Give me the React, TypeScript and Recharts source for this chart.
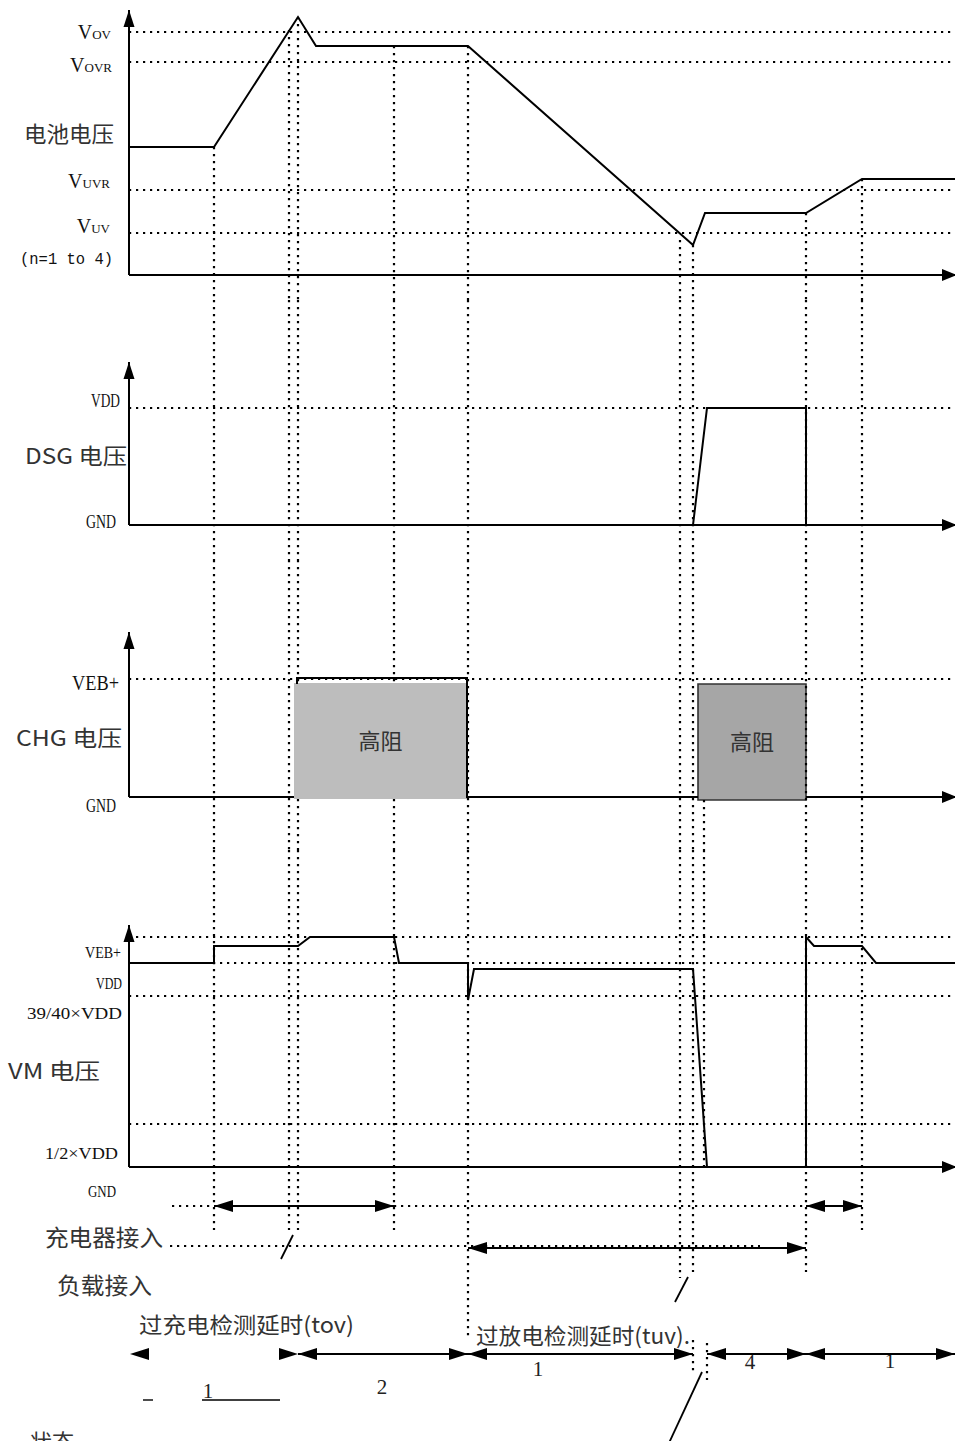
import React from "react";
import {
  ComposedChart,
  Line,
  XAxis,
  YAxis,
  ReferenceLine,
  ReferenceArea,
} from "recharts";

const W = 955;
const AXIS_X = 129;
const T_END = 826;

const SERIF = "'Liberation Serif', 'DejaVu Serif', serif";
const MONO = "'Liberation Mono', monospace";
const CJK = "'Noto Sans CJK SC', 'Noto Sans', sans-serif";

// event times (time units from the vertical axis)
const guideTimes = [85, 160, 169, 265, 339, 551, 564, 677, 733];
// where each guide starts in the battery panel and ends in the timeline rows
const guideStartBattery = [128, 245, 258, 229, 229, 35, 30, 62, 96];
const guideEndTimeline = [30, 30, 30, 30, 138, 78, 72, 72, 30];

// battery voltage
const batteryT = [0, 85, 169, 187, 339, 564, 576, 677, 733, 826];
const batteryV = [128, 128, 258, 229, 229, 30, 62, 62, 96, 96];
const batteryLevels = [243, 213, 85, 42]; // VOV, VOVR, VUVR, VUV

// DSG voltage
const dsgT = [0, 564, 578, 677, 677, 826];
const dsgV = [0, 0, 117, 117, 0, 0];
const dsgLevels = [117]; // VDD

// CHG voltage
const chgLowT = [0, 165];
const chgLowV = [0, 0];
const chgHighT = [168, 168, 338, 338, 569];
const chgHighV = [113, 119, 119, 0, 0];
const chgLevels = [118]; // VEB+
const hiZ1 = { t1: 165, t2: 338, v1: -2, v2: 114 };
const hiZ2 = { t1: 569, t2: 677, v1: -3, v2: 113 };

// VM voltage
const vmT = [0, 85, 85, 169, 181, 265, 270, 339, 339, 345, 564, 578, 677, 677, 685, 733, 747, 826];
const vmV = [204, 204, 221, 221, 230, 230, 204, 204, 167, 198, 198, 0, 0, 230, 221, 221, 204, 204];
const vmLevels = [230, 204, 171, 43]; // VEB+, VDD, 39/40 VDD, 1/2 VDD

// timeline rows
const rowTop = 6;
const rowCharger = 46;
const rowCharger2 = 48;
const rowState = 154;
const dottedRows = [
  { row: rowTop, t1: 43, t2: 85 },
  { row: rowTop, t1: 265, t2: 677 },
  { row: rowCharger, t1: 41, t2: 631 },
];
const spans = [
  { row: rowTop, t1: 85, t2: 265, start: true, end: true, line: true },
  { row: rowTop, t1: 677, t2: 733, start: true, end: true, line: true },
  { row: rowCharger2, t1: 339, t2: 677, start: true, end: true, line: true },
  { row: rowState, t1: 1, t2: 169, start: true, end: true, line: false },
  { row: rowState, t1: 169, t2: 339, start: true, end: true, line: true },
  { row: rowState, t1: 339, t2: 564, start: true, end: true, line: true },
  { row: rowState, t1: 578, t2: 677, start: true, end: true, line: true },
  { row: rowState, t1: 677, t2: 826, start: true, end: true, line: true },
];
const slashes = [
  { t1: 152, r1: 59, t2: 164, r2: 35 },
  { t1: 546, r1: 102, t2: 559, r2: 77 },
  { t1: 573, r1: 172, t2: 540, r2: 243 },
];

const pts = (t: number[], v: number[]) => t.map((x, i) => ({ t: x, v: v[i] }));

const dotted = { stroke: "#000", strokeWidth: 2.2, strokeDasharray: "2.2 4.8" };

function wave(key: string, t: number[], v: number[]) {
  return (
    <Line
      key={key}
      data={pts(t, v)}
      dataKey="v"
      type="linear"
      stroke="#000"
      strokeWidth={2}
      dot={false}
      activeDot={false}
      isAnimationActive={false}
      legendType="none"
    />
  );
}

function hDotted(key: string, level: number) {
  return <ReferenceLine key={key} y={level} {...dotted} ifOverflow="visible" />;
}

function vGuide(key: string, t: number, y1: number, y2: number) {
  return (
    <ReferenceLine
      key={key}
      segment={[{ x: t, y: y1 }, { x: t, y: y2 }]}
      {...dotted}
      ifOverflow="visible"
    />
  );
}

function dottedSeg(key: string, t1: number, t2: number, y: number) {
  return (
    <ReferenceLine
      key={key}
      segment={[{ x: t1, y }, { x: t2, y }]}
      {...dotted}
      ifOverflow="visible"
    />
  );
}

const arrowShape =
  (start: boolean, end: boolean, line = true, len = 18, half = 6) =>
  (p: any) => {
    const { x1, y1, x2, y2 } = p;
    const dx = x2 - x1;
    const dy = y2 - y1;
    const L = Math.hypot(dx, dy) || 1;
    const ux = dx / L;
    const uy = dy / L;
    const head = (tx: number, ty: number, ax: number, ay: number) => {
      const bx = tx - ax * len;
      const by = ty - ay * len;
      const px = -ay * half;
      const py = ax * half;
      return `${tx},${ty} ${bx + px},${by + py} ${bx - px},${by - py}`;
    };
    return (
      <g>
        {line && <line x1={x1} y1={y1} x2={x2} y2={y2} stroke="#000" strokeWidth={2} />}
        {end && <polygon points={head(x2, y2, ux, uy)} fill="#000" />}
        {start && <polygon points={head(x1, y1, -ux, -uy)} fill="#000" />}
      </g>
    );
  };

function arrow(
  key: string,
  a: { x: number; y: number },
  b: { x: number; y: number },
  start: boolean,
  end: boolean,
  line = true,
  len = 18,
  half = 6
) {
  return (
    <ReferenceLine
      key={key}
      segment={[a, b]}
      ifOverflow="visible"
      shape={arrowShape(start, end, line, len, half)}
    />
  );
}

function solidSeg(key: string, a: { x: number; y: number }, b: { x: number; y: number }, w = 1.6) {
  return (
    <ReferenceLine key={key} segment={[a, b]} stroke="#000" strokeWidth={w} ifOverflow="visible" />
  );
}

function axes(top: number, withX = true) {
  const out = [arrow("yaxis", { x: 0, y: 0 }, { x: 0, y: top }, false, true, true, 17, 5.5)];
  if (withX) out.push(arrow("xaxis", { x: 0, y: 0 }, { x: 828, y: 0 }, false, true, true, 15, 6));
  return out;
}

function Panel({
  height,
  domain,
  reversed = false,
  children,
}: {
  height: number;
  domain: [number, number];
  reversed?: boolean;
  children: React.ReactNode;
}) {
  return (
    <ComposedChart
      width={W}
      height={height}
      margin={{ top: 0, right: 0, bottom: 0, left: AXIS_X }}
      style={{ display: "block" }}
    >
      <XAxis type="number" dataKey="t" domain={[0, T_END]} hide allowDataOverflow />
      <YAxis type="number" dataKey="v" domain={domain} hide allowDataOverflow reversed={reversed} />
      {children}
    </ComposedChart>
  );
}

const serifLabel = (
  key: string,
  x: number,
  y: number,
  text: string,
  size = 17,
  length?: number
) => (
  <text
    key={key}
    x={x}
    y={y}
    textAnchor="end"
    fontFamily={SERIF}
    fontSize={size}
    fill="#111"
    textLength={length}
    lengthAdjust={length ? "spacingAndGlyphs" : undefined}
  >
    {text}
  </text>
);

const vLabel = (key: string, x: number, y: number, sub: string) => (
  <text key={key} x={x} y={y} textAnchor="end" fontFamily={SERIF} fill="#111">
    <tspan fontSize={20}>V</tspan>
    <tspan fontSize={13}>{sub}</tspan>
  </text>
);

const cjkLabel = (key: string, x: number, y: number, text: string, size = 22, length?: number) => (
  <text
    key={key}
    x={x}
    y={y}
    fontFamily={CJK}
    fontSize={size}
    fill="#333"
    textLength={length}
    lengthAdjust={length ? "spacingAndGlyphs" : undefined}
  >
    {text}
  </text>
);

const numLabel = (key: string, x: number, y: number, text: string) => (
  <text key={key} x={x} y={y} textAnchor="middle" fontFamily={SERIF} fontSize={21} fill="#222">
    {text}
  </text>
);

// guides in the CHG panel stop where the first high-impedance box covers them
function chgGuides(top: number, bottom: number) {
  const out: React.ReactNode[] = [];
  guideTimes.forEach((t, i) => {
    if (t > hiZ1.t1 && t < hiZ1.t2) {
      out.push(vGuide(`cg${i}a`, t, top, hiZ1.v2));
      out.push(vGuide(`cg${i}b`, t, hiZ1.v1, bottom));
    } else {
      out.push(vGuide(`cg${i}`, t, top, bottom));
    }
  });
  return out;
}

export default function App() {
  const A: [number, number] = [-25, 275];
  const B: [number, number] = [-35, 225];
  const C: [number, number] = [-53, 237];
  const D: [number, number] = [-33, 317];
  const E: [number, number] = [0, 241];

  return (
    <div
      style={{
        position: "absolute",
        left: 0,
        top: 0,
        width: W,
        height: 1441,
        overflow: "hidden",
        background: "#fff",
      }}
    >
      {/* battery voltage */}
      <Panel height={300} domain={A}>
        {batteryLevels.map((l, i) => hDotted(`bl${i}`, l))}
        {guideTimes.map((t, i) => vGuide(`bg${i}`, t, guideStartBattery[i], A[0]))}
        {axes(265)}
        {wave("battery", batteryT, batteryV)}
        {vLabel("vov", 111, 39, "OV")}
        {vLabel("vovr", 112, 72, "OVR")}
        {cjkLabel("bat", 24, 142, "电池电压", 22, 90)}
        {vLabel("vuvr", 110, 188, "UVR")}
        {vLabel("vuv", 110, 233, "UV")}
        <text x={20} y={264} fontFamily={MONO} fontSize={17} fill="#111" textLength={93} lengthAdjust="spacingAndGlyphs">
          (n=1 to 4)
        </text>
      </Panel>

      {/* DSG voltage */}
      <Panel height={260} domain={B}>
        {dsgLevels.map((l, i) => hDotted(`dl${i}`, l))}
        {guideTimes.map((t, i) => vGuide(`dg${i}`, t, B[1], B[0]))}
        {axes(163)}
        {wave("dsg", dsgT, dsgV)}
        {serifLabel("vdd", 120, 407 - 300, "VDD", 18, 29)}
        {cjkLabel("dsg", 25, 164, "DSG 电压", 22, 102)}
        {serifLabel("gnd", 116, 228, "GND", 18, 30)}
      </Panel>

      {/* CHG voltage */}
      <Panel height={290} domain={C}>
        {chgLevels.map((l, i) => hDotted(`cl${i}`, l))}
        {chgGuides(C[1], C[0])}
        {vGuide("cg-x", 575, hiZ2.v1, C[0])}
        <ReferenceArea
          x1={hiZ1.t1}
          x2={hiZ1.t2}
          y1={hiZ1.v1}
          y2={hiZ1.v2}
          fill="#bdbdbd"
          fillOpacity={1}
          stroke="none"
          ifOverflow="visible"
          label={{ value: "高阻", position: "center", fill: "#333", fontSize: 22, fontFamily: CJK }}
        />
        <ReferenceArea
          x1={hiZ2.t1}
          x2={hiZ2.t2}
          y1={hiZ2.v1}
          y2={hiZ2.v2}
          fill="#a6a6a6"
          fillOpacity={1}
          stroke="#333"
          strokeWidth={1.6}
          ifOverflow="visible"
          label={{ value: "高阻", position: "center", fill: "#333", fontSize: 22, fontFamily: CJK }}
        />
        {axes(165, false)}
        {wave("chg-low", chgLowT, chgLowV)}
        {wave("chg-high", chgHighT, chgHighV)}
        {arrow("chg-x", { x: 677, y: 0 }, { x: 828, y: 0 }, false, true, true, 15, 6)}
        {serifLabel("veb", 119, 130, "VEB+", 22, 47)}
        {cjkLabel("chg", 16, 186, "CHG 电压", 22, 106)}
        {serifLabel("gnd", 116, 252, "GND", 18, 30)}
      </Panel>

      {/* VM voltage */}
      <Panel height={350} domain={D}>
        {vmLevels.map((l, i) => hDotted(`vl${i}`, l))}
        {guideTimes.map((t, i) => vGuide(`vg${i}`, t, D[1], D[0]))}
        {vGuide("vg-x", 575, D[1], 0)}
        {axes(242)}
        {wave("vm", vmT, vmV)}
        {serifLabel("veb", 121, 108, "VEB+", 17, 36)}
        {serifLabel("vdd", 122, 139, "VDD", 17, 26)}
        {serifLabel("v3940", 122, 169, "39/40×VDD", 17, 95)}
        {cjkLabel("vm", 8, 229, "VM 电压", 22, 92)}
        {serifLabel("half", 118, 309, "1/2×VDD", 17, 73)}
        {serifLabel("gnd", 116, 347, "GND", 17, 28)}
      </Panel>

      {/* timeline */}
      <Panel height={241} domain={E} reversed>
        {guideTimes.map((t, i) => vGuide(`eg${i}`, t, 0, guideEndTimeline[i]))}
        {vGuide("eg-a", 564, 140, 172)}
        {vGuide("eg-b", 578, 143, 180)}
        {dottedRows.map((d, i) => dottedSeg(`er${i}`, d.t1, d.t2, d.row))}
        {spans.map((s, i) =>
          arrow(`sp${i}`, { x: s.t1, y: s.row }, { x: s.t2, y: s.row }, s.start, s.end, s.line, 19, 6)
        )}
        {slashes.map((s, i) => solidSeg(`sl${i}`, { x: s.t1, y: s.r1 }, { x: s.t2, y: s.r2 }, 1.8))}
        {solidSeg("ul1", { x: 73, y: 200 }, { x: 151, y: 200 }, 1.4)}
        {solidSeg("ul0", { x: 14, y: 200 }, { x: 24, y: 200 }, 1.4)}
        {cjkLabel("chgin", 45, 46, "充电器接入", 23, 118)}
        {cjkLabel("loadin", 57, 94, "负载接入", 23, 95)}
        {cjkLabel("tov", 139, 133, "过充电检测延时(tov)", 22, 215)}
        {cjkLabel("tuv", 476, 144, "过放电检测延时(tuv).", 22, 214)}
        {numLabel("n1a", 208, 198, "1")}
        {numLabel("n2", 382, 194, "2")}
        {numLabel("n1b", 538, 176, "1")}
        {numLabel("n4", 750, 169, "4")}
        {numLabel("n1c", 890, 168, "1")}
        {cjkLabel("state", 30, 250, "状态", 22)}
      </Panel>
    </div>
  );
}
